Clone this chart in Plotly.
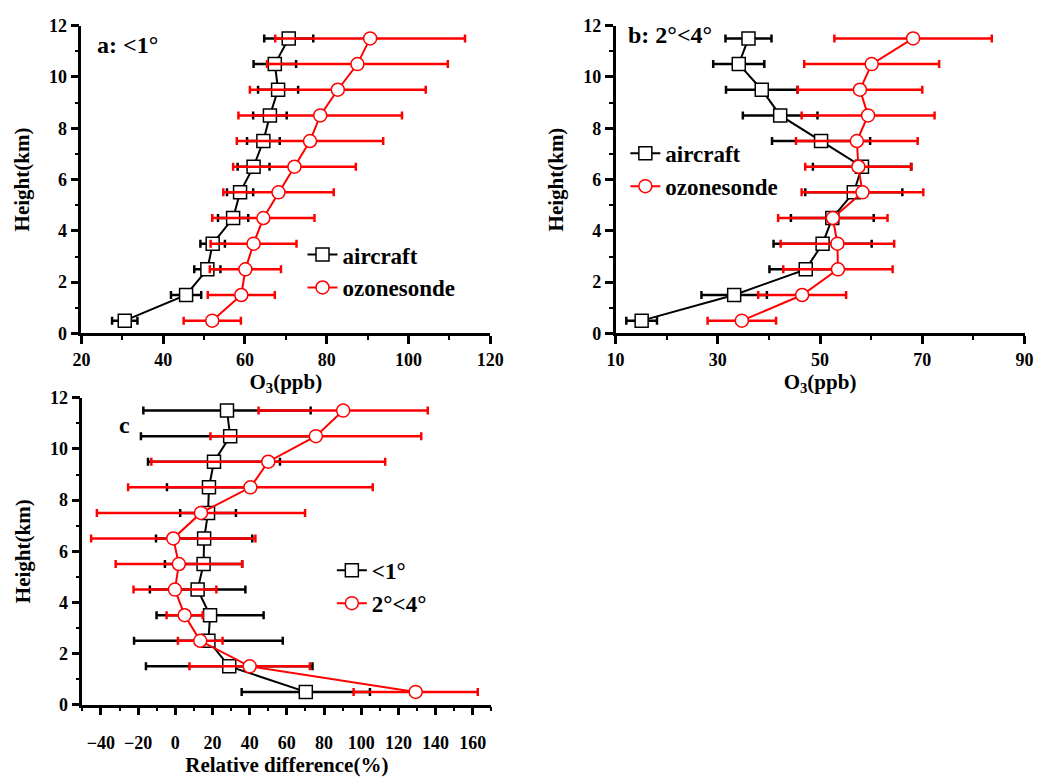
import plotly.graph_objects as go

heights = [0.5, 1.5, 2.5, 3.5, 4.5, 5.5, 6.5, 7.5, 8.5, 9.5, 10.5, 11.5]

# Panel a: <1 deg
a_air = [30.6, 45.6, 50.8, 52.1, 57.1, 58.8, 62.1, 64.5, 66.1, 68.1, 67.3, 70.7]
a_air_err = [3.1, 3.7, 3.2, 3.0, 3.7, 3.2, 3.9, 4.0, 4.1, 4.9, 5.2, 6.0]
a_oz = [52.0, 59.1, 60.1, 62.1, 64.5, 68.2, 72.1, 75.9, 78.4, 82.7, 87.5, 90.6]
a_oz_err = [7.0, 8.2, 8.7, 10.5, 12.5, 13.5, 15.0, 17.9, 20.0, 21.5, 22.1, 23.2]

# Panel b: 2-4 deg
b_air = [15.1, 33.2, 47.2, 50.5, 52.4, 56.6, 58.2, 50.2, 42.2, 38.6, 34.1, 36.0]
b_air_err = [3.0, 6.4, 7.1, 9.6, 8.1, 9.5, 9.6, 9.6, 7.3, 7.0, 5.0, 4.5]
b_oz = [34.7, 46.5, 53.5, 53.4, 52.5, 58.3, 57.5, 57.2, 59.4, 57.8, 60.1, 68.2]
b_oz_err = [6.7, 8.6, 10.7, 11.1, 10.7, 11.9, 10.4, 11.9, 13.0, 12.2, 13.2, 15.4]

# Panel c: relative difference
c_lt1 = [70.2, 29.0, 17.8, 18.7, 12.0, 15.2, 15.5, 17.6, 18.1, 20.8, 29.5, 27.8]
c_lt1_err = [34.5, 44.8, 40.0, 28.8, 25.7, 20.8, 25.9, 15.0, 22.6, 35.5, 48.0, 45.0]
c_24 = [129.3, 40.0, 13.4, 5.0, -0.2, 1.9, -1.1, 13.8, 40.4, 50.0, 75.6, 90.3]
c_24_err = [33.4, 32.4, 12.0, 9.7, 22.3, 34.0, 44.2, 56.0, 65.8, 62.9, 56.7, 45.5]

FONT = "Liberation Serif, Times New Roman, serif"
BLACK = "black"
RED = "#ff0000"

fig = go.Figure()


def add(x, err, name, color, symbol, xa, ya, legend):
    fig.add_trace(go.Scatter(
        x=x, y=heights, name=name, mode="lines+markers",
        xaxis=xa, yaxis=ya, legend=legend,
        line=dict(color=color, width=2),
        marker=dict(symbol=symbol, size=13, color="white",
                    line=dict(color=color, width=1.5)),
        error_x=dict(type="data", array=err, visible=True, color=color,
                     thickness=2.5, width=4),
    ))


add(a_air, a_air_err, "aircraft", BLACK, "square", "x", "y", "legend")
add(a_oz, a_oz_err, "ozonesonde", RED, "circle", "x", "y", "legend")
add(b_air, b_air_err, "aircraft", BLACK, "square", "x2", "y2", "legend2")
add(b_oz, b_oz_err, "ozonesonde", RED, "circle", "x2", "y2", "legend2")
add(c_lt1, c_lt1_err, "<1°", BLACK, "square", "x3", "y3", "legend3")
add(c_24, c_24_err, "2°<4°", RED, "circle", "x3", "y3", "legend3")

W, H = 1062, 780
tickfont = dict(family=FONT, size=18, color="black", weight="bold")
titlefont = dict(family=FONT, size=21, color="black", weight="bold")


def xax(domain, rng, tick0, dtick, title, anchor, lab_off=0, t_off=0):
    return dict(domain=domain, range=rng, anchor=anchor, tick0=tick0, dtick=dtick,
                showline=True, linecolor="black", linewidth=2.5, mirror=False,
                ticks="outside", ticklen=8, tickwidth=2.5, tickcolor="black",
                ticklabelstandoff=lab_off,
                minor=dict(ticks="outside", dtick=10, ticklen=4, tickwidth=2, tickcolor="black"),
                showgrid=False, zeroline=False, tickfont=tickfont,
                title=dict(text=title, font=titlefont, standoff=t_off))


def yax(domain, anchor):
    return dict(domain=domain, range=[0, 12], anchor=anchor, tick0=0, dtick=2,
                showline=True, linecolor="black", linewidth=2.5, mirror=False,
                ticks="outside", ticklen=8, tickwidth=2.5, tickcolor="black",
                minor=dict(ticks="outside", dtick=1, ticklen=4, tickwidth=2, tickcolor="black"),
                showgrid=False, zeroline=False, tickfont=tickfont,
                title=dict(text="Height(km)", font=titlefont, standoff=14))


legfont = dict(family=FONT, size=23, color="black", weight="bold")


def leg(x, y):
    return dict(x=x, y=y, xanchor="left", yanchor="top", font=legfont,
                bgcolor="rgba(0,0,0,0)", itemwidth=30, tracegroupgap=0,
                itemsizing="trace")


fig.update_layout(
    width=W, height=H,
    margin=dict(l=0, r=0, t=0, b=0),
    paper_bgcolor="white", plot_bgcolor="white",
    font=dict(family=FONT, color="black"),
    xaxis=xax([74 / W, 492 / W], [20, 120], 20, 20, "O<sub>3</sub>(ppb)", "y"),
    yaxis=yax([1 - 332 / H, 1 - 16 / H], "x"),
    xaxis2=xax([620 / W, 1038 / W], [10, 90], 10, 20, "O<sub>3</sub>(ppb)", "y2"),
    yaxis2=yax([1 - 332 / H, 1 - 16 / H], "x2"),
    xaxis3=xax([75 / W, 493 / W], [-50, 170], -40, 20, "Relative difference(%)", "y3",
               lab_off=12, t_off=4),
    yaxis3=yax([1 - 713 / H, 1 - 398 / H], "x3"),
    legend=leg(300 / W, 1 - 229 / H),
    legend2=leg(630 / W, 1 - 125 / H),
    legend3=leg(330 / W, 1 - 553 / H),
    showlegend=True,
    annotations=[
        dict(text="a: <1°", x=88 / W, y=1 - 36 / H, xref="paper", yref="paper",
             xanchor="left", yanchor="middle", showarrow=False,
             font=dict(family=FONT, size=24, color="black", weight="bold")),
        dict(text="b: 2°<4°", x=631 / W, y=1 - 26 / H, xref="paper", yref="paper",
             xanchor="left", yanchor="middle", showarrow=False,
             font=dict(family=FONT, size=24, color="black", weight="bold")),
        dict(text="c", x=110 / W, y=1 - 426 / H, xref="paper", yref="paper",
             xanchor="left", yanchor="middle", showarrow=False,
             font=dict(family=FONT, size=24, color="black", weight="bold")),
    ],
)

fig.write_html("out.html")
